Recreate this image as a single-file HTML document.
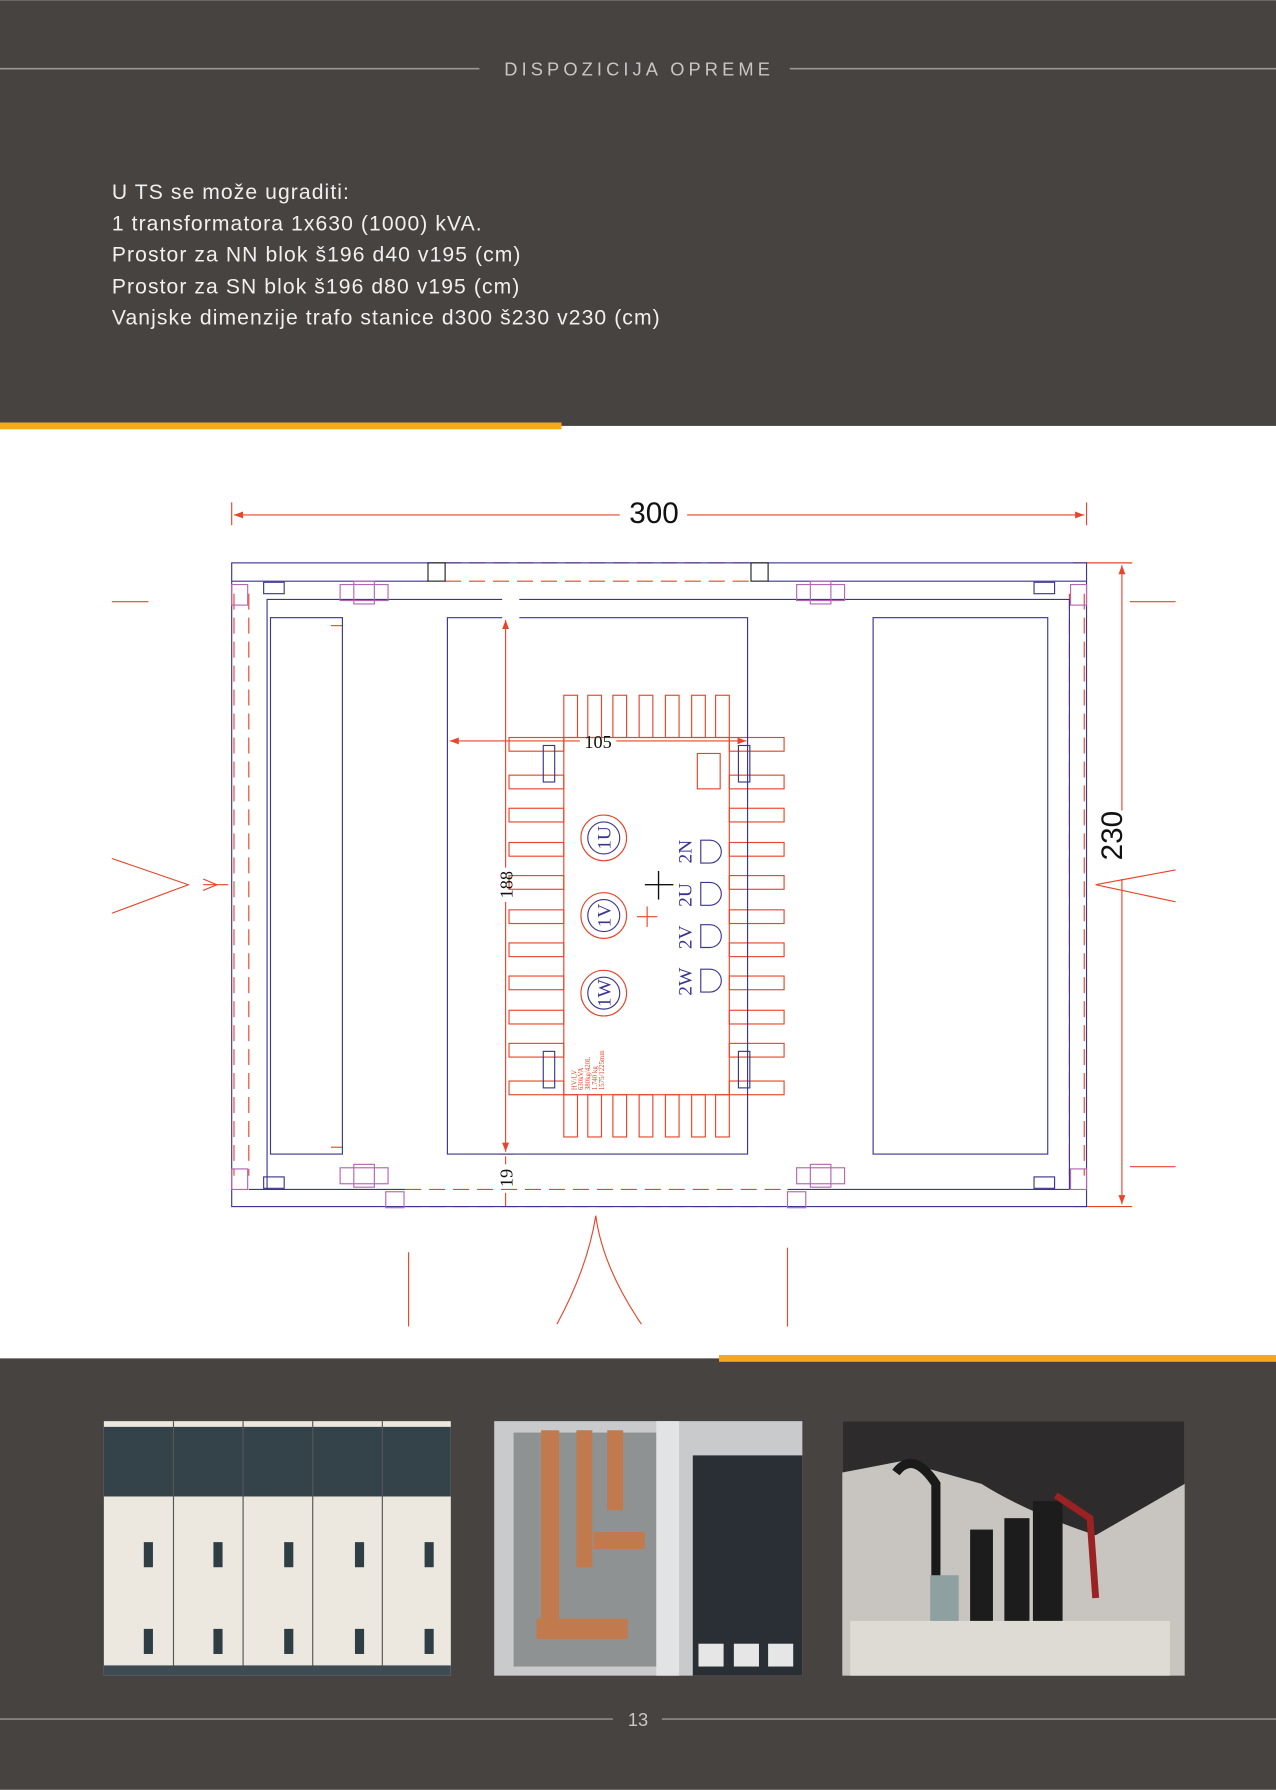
<!DOCTYPE html>
<html><head><meta charset="utf-8"><style>
html,body{margin:0;padding:0;background:#fff;}
svg{display:block;}
</style></head><body>
<svg width="1276" height="1790" viewBox="0 0 1118 1568" xmlns="http://www.w3.org/2000/svg" font-family="Liberation Sans, sans-serif">
<defs>
<marker id="ar" markerWidth="8" markerHeight="6" refX="8" refY="3" orient="auto-start-reverse"><path d="M0,0 L8,3 L0,6 z" fill="#e8452a"/></marker>
</defs>
<rect x="0" y="0" width="1118" height="373" fill="#474341"/>
<line x1="0" y1="60" x2="420" y2="60" stroke="#9a9694" stroke-width="1.5"/>
<line x1="692" y1="60" x2="1118" y2="60" stroke="#9a9694" stroke-width="1.5"/>
<text x="560" y="66" fill="#c9c6c4" font-size="16" text-anchor="middle" letter-spacing="3.6">DISPOZICIJA OPREME</text>
<g fill="#f2f0ee" font-size="18.5" letter-spacing="0.95">
<text x="98" y="174">U TS se može ugraditi:</text>
<text x="98" y="202">1 transformatora 1x630 (1000) kVA.</text>
<text x="98" y="229">Prostor za NN blok š196 d40 v195 (cm)</text>
<text x="98" y="257">Prostor za SN blok š196 d80 v195 (cm)</text>
<text x="98" y="284">Vanjske dimenzije trafo stanice d300 š230 v230 (cm)</text>
</g>
<rect x="0" y="370" width="492" height="6" fill="#f6a81c"/>

<rect x="0" y="1190" width="1118" height="378" fill="#474341"/>
<rect x="630" y="1187" width="488" height="6" fill="#f6a81c"/>
<line x1="0" y1="1506" x2="537" y2="1506" stroke="#9a9694" stroke-width="1.2"/>
<line x1="580" y1="1506" x2="1118" y2="1506" stroke="#9a9694" stroke-width="1.2"/>
<text x="559" y="1512" fill="#c9c6c4" font-size="16" text-anchor="middle">13</text>

<rect x="91" y="1245" width="304" height="223" fill="#ece8e0"/>
<rect x="91" y="1250" width="304" height="61" fill="#34434a"/>
<g fill="#2f3e45">
<rect x="126" y="1351" width="8" height="22"/><rect x="126" y="1427" width="8" height="22"/>
<rect x="187" y="1351" width="8" height="22"/><rect x="187" y="1427" width="8" height="22"/>
<rect x="249" y="1351" width="8" height="22"/><rect x="249" y="1427" width="8" height="22"/>
<rect x="311" y="1351" width="8" height="22"/><rect x="311" y="1427" width="8" height="22"/>
<rect x="372" y="1351" width="8" height="22"/><rect x="372" y="1427" width="8" height="22"/>
</g>
<g stroke="#555" stroke-width="1"><line x1="152" y1="1245" x2="152" y2="1468"/><line x1="213" y1="1245" x2="213" y2="1468"/><line x1="274" y1="1245" x2="274" y2="1468"/><line x1="335" y1="1245" x2="335" y2="1468"/></g>
<rect x="91" y="1459" width="304" height="9" fill="#3e4b52"/>
<rect x="433" y="1245" width="270" height="223" fill="#c9cacb"/>
<rect x="450" y="1255" width="130" height="205" fill="#8f9293"/>
<rect x="575" y="1245" width="20" height="223" fill="#e2e3e4"/>
<rect x="607" y="1275" width="96" height="193" fill="#2a2e35"/>
<g fill="#c07a4e"><rect x="474" y="1253" width="16" height="180"/><rect x="505" y="1253" width="14" height="120"/><rect x="532" y="1253" width="14" height="70"/><rect x="470" y="1418" width="80" height="18"/><rect x="520" y="1342" width="45" height="15"/></g>
<g fill="#e6e6e6"><rect x="612" y="1440" width="22" height="20"/><rect x="643" y="1440" width="22" height="20"/><rect x="673" y="1440" width="22" height="20"/></g>
<rect x="738" y="1245" width="300" height="223" fill="#c8c4bf"/>
<path d="M738,1245 H1038 V1300 L960,1345 Q900,1325 860,1300 L790,1280 L738,1290 z" fill="#2d2b2b"/>
<rect x="745" y="1420" width="280" height="48" fill="#dedbd5"/>
<g fill="#1d1c1c"><rect x="880" y="1330" width="22" height="90"/><rect x="905" y="1315" width="26" height="105"/><rect x="850" y="1340" width="20" height="80"/></g>
<path d="M785,1290 Q800,1270 820,1300 L820,1400" stroke="#1a1a1a" stroke-width="8" fill="none"/>
<path d="M925,1310 L955,1330 L960,1400" stroke="#9a2222" stroke-width="6" fill="none"/>
<rect x="815" y="1380" width="25" height="40" fill="#8fa0a0"/>

<g fill="none" stroke="#e8452a" stroke-width="1">
<line x1="203" y1="440" x2="203" y2="460"/><line x1="952" y1="440" x2="952" y2="460"/>
<line x1="205" y1="451" x2="543" y2="451" marker-start="url(#ar)"/>
<line x1="602" y1="451" x2="950" y2="451" marker-end="url(#ar)"/>
<line x1="940" y1="493" x2="992" y2="493"/><line x1="940" y1="1057" x2="992" y2="1057"/>
<line x1="983" y1="495" x2="983" y2="710" marker-start="url(#ar)"/>
<line x1="983" y1="770" x2="983" y2="1055" marker-end="url(#ar)"/>
<line x1="394" y1="649" x2="508" y2="649" marker-start="url(#ar)"/>
<line x1="540" y1="649" x2="654" y2="649" marker-end="url(#ar)"/>
<line x1="443" y1="543" x2="443" y2="760" marker-start="url(#ar)"/>
<line x1="443" y1="790" x2="443" y2="1009" marker-end="url(#ar)"/>
<line x1="443" y1="1013" x2="443" y2="1020"/>
<line x1="443" y1="1045" x2="443" y2="1057"/>
<line x1="437" y1="1011" x2="450" y2="1011"/>
<line x1="290" y1="548" x2="300" y2="548"/><line x1="290" y1="1005" x2="300" y2="1005"/>
<g stroke-dasharray="14,7">
<line x1="390" y1="493" x2="658" y2="493"/><line x1="390" y1="509" x2="658" y2="509"/>
<line x1="355" y1="1042" x2="690" y2="1042"/><line x1="355" y1="1057" x2="690" y2="1057"/>
<line x1="205" y1="520" x2="205" y2="1030"/><line x1="218" y1="520" x2="218" y2="1030"/>
<line x1="937" y1="520" x2="937" y2="1030"/><line x1="950" y1="520" x2="950" y2="1030"/>
</g>
<line x1="98" y1="527" x2="130" y2="527"/>
<path d="M98,752 L165,775 L98,800"/><line x1="178" y1="775" x2="200" y2="775"/><path d="M178,770 L190,775 L178,780"/>
<path d="M1030,762 L960,775 L1030,790"/>
<line x1="990" y1="527" x2="1030" y2="527"/><line x1="990" y1="1022" x2="1030" y2="1022"/>
<path d="M488,1160 Q515,1110 522,1065 Q528,1110 562,1160"/>
<line x1="358" y1="1097" x2="358" y2="1162"/><line x1="690" y1="1093" x2="690" y2="1162"/>
<rect x="494" y="646" width="145" height="313"/>
<rect x="611" y="660" width="20" height="31"/>
<g>
<rect x="494" y="609" width="12" height="37"/><rect x="515" y="609" width="12" height="37"/><rect x="537" y="609" width="12" height="37"/><rect x="560" y="609" width="12" height="37"/><rect x="583" y="609" width="12" height="37"/><rect x="606" y="609" width="12" height="37"/><rect x="627" y="609" width="12" height="37"/>
<rect x="494" y="959" width="12" height="37"/><rect x="515" y="959" width="12" height="37"/><rect x="537" y="959" width="12" height="37"/><rect x="560" y="959" width="12" height="37"/><rect x="583" y="959" width="12" height="37"/><rect x="606" y="959" width="12" height="37"/><rect x="627" y="959" width="12" height="37"/>
</g>
<g id="fins">
<rect x="446" y="646" width="48" height="12"/><rect x="446" y="679" width="48" height="12"/><rect x="446" y="708" width="48" height="12"/><rect x="446" y="738" width="48" height="12"/><rect x="446" y="767" width="48" height="12"/><rect x="446" y="797" width="48" height="12"/><rect x="446" y="826" width="48" height="12"/><rect x="446" y="855" width="48" height="12"/><rect x="446" y="885" width="48" height="12"/><rect x="446" y="914" width="48" height="12"/><rect x="446" y="947" width="48" height="12"/>
</g>
<use href="#fins" x="193"/>
<circle cx="529" cy="734" r="20"/><circle cx="529" cy="802" r="20"/><circle cx="529" cy="870" r="20"/>
<line x1="558" y1="803" x2="576" y2="803"/><line x1="567" y1="794" x2="567" y2="812"/>
</g>
<g fill="none" stroke="#3b3592" stroke-width="1">
<rect x="203" y="493" width="749" height="564"/>
<line x1="203" y1="509" x2="375" y2="509"/><line x1="673" y1="509" x2="952" y2="509"/>
<line x1="218" y1="1042" x2="355" y2="1042"/><line x1="690" y1="1042" x2="937" y2="1042"/>
<path d="M440,525 H234 V1042"/><path d="M455,525 H937 V1042"/>
<rect x="375" y="493" width="15" height="16" stroke="#222"/>
<rect x="658" y="493" width="15" height="16" stroke="#222"/>
<rect x="237" y="541" width="63" height="470"/>
<path d="M440,541 H392 V1011 H655 V541 H455"/>
<rect x="765" y="541" width="153" height="470"/>
<circle cx="529" cy="734" r="14"/><circle cx="529" cy="802" r="14"/><circle cx="529" cy="870" r="14"/>
<rect x="476" y="653" width="10" height="32"/><rect x="647" y="653" width="10" height="32"/>
<rect x="476" y="921" width="10" height="32"/><rect x="647" y="921" width="10" height="32"/>
<path d="M614,736 h8 a10,10 0 0 1 0,20 h-8 z"/><path d="M614,773 h8 a10,10 0 0 1 0,20 h-8 z"/><path d="M614,810 h8 a10,10 0 0 1 0,20 h-8 z"/><path d="M614,849 h8 a10,10 0 0 1 0,20 h-8 z"/>
<rect x="231" y="510" width="18" height="10"/><rect x="906" y="510" width="18" height="10"/>
<rect x="231" y="1031" width="18" height="10"/><rect x="906" y="1031" width="18" height="10"/>
</g>
<g fill="none" stroke="#b565b5" stroke-width="1">
<rect x="298" y="512" width="42" height="14"/><rect x="310" y="509" width="18" height="20"/>
<rect x="698" y="512" width="42" height="14"/><rect x="710" y="509" width="18" height="20"/>
<rect x="298" y="1023" width="42" height="14"/><rect x="310" y="1020" width="18" height="20"/>
<rect x="698" y="1023" width="42" height="14"/><rect x="710" y="1020" width="18" height="20"/>
<rect x="203" y="512" width="14" height="18"/><rect x="938" y="512" width="14" height="18"/>
<rect x="203" y="1024" width="14" height="18"/><rect x="938" y="1024" width="14" height="18"/>
<rect x="338" y="1044" width="16" height="14"/><rect x="690" y="1044" width="16" height="14"/>
</g>
<g stroke="#111" stroke-width="1.2"><line x1="565" y1="775" x2="590" y2="775"/><line x1="577" y1="763" x2="577" y2="788"/></g>
<text x="573" y="458" font-size="26" text-anchor="middle" fill="#111">300</text>
<text x="992" y="741" font-size="26" text-anchor="middle" fill="#111" transform="rotate(-90 983 741)">230</text>
<g font-family="Liberation Serif, serif" fill="#111">
<text x="524" y="655" font-size="16" text-anchor="middle">105</text>
<text x="0" y="0" font-size="16" text-anchor="middle" transform="translate(449 775) rotate(-90)">188</text>
<text x="0" y="0" font-size="16" text-anchor="middle" transform="translate(449 1032) rotate(-90)">19</text>
</g>
<g font-family="Liberation Serif, serif" fill="#3b3592" font-size="17" text-anchor="middle">
<text transform="translate(535 734) rotate(-90)">1U</text>
<text transform="translate(535 802) rotate(-90)">1V</text>
<text transform="translate(535 870) rotate(-90)">1W</text>
<text transform="translate(606 746) rotate(-90)">2N</text>
<text transform="translate(606 784) rotate(-90)">2U</text>
<text transform="translate(606 821) rotate(-90)">2V</text>
<text transform="translate(606 860) rotate(-90)">2W</text>
</g>
<g font-family="Liberation Serif, serif" fill="#e8452a" font-size="6">
<text transform="translate(505 955) rotate(-90)">HV/LV</text>
<text transform="translate(511 955) rotate(-90)">630kVA</text>
<text transform="translate(517 955) rotate(-90)">380kg/420L</text>
<text transform="translate(523 955) rotate(-90)">1.740 kg</text>
<text transform="translate(529 955) rotate(-90)">1575/1225mm</text>
</g>
</svg>
</body></html>
